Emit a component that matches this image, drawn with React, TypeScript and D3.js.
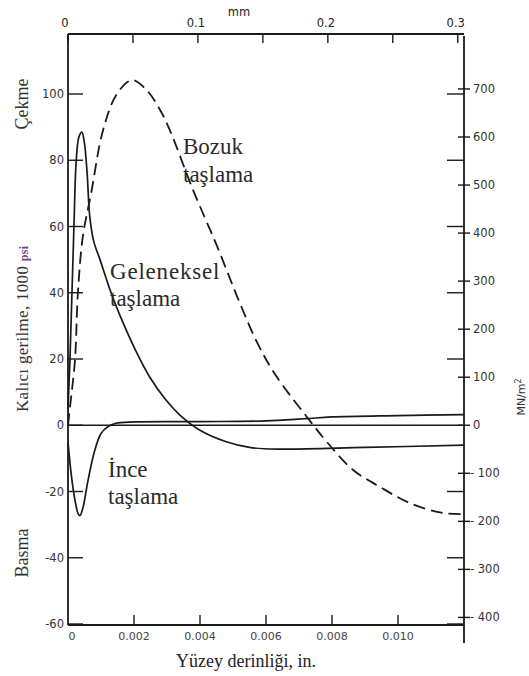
import * as d3 from "d3"

// depth in inches, stress in 1000 psi
const bozuk: [number, number][] = [
  [0, 0], [0.00006, 5.5], [0.00021, 19.5], [0.0003, 40], [0.00045, 57], [0.0007, 70],
  [0.00106, 89], [0.00148, 100], [0.00194, 104.2], [0.0024, 101], [0.0028, 95],
  [0.00309, 89], [0.00379, 71], [0.00452, 54], [0.00512, 39], [0.00573, 25],
  [0.0063, 15], [0.00724, 2.5], [0.00785, -5.1], [0.00864, -13.5], [0.00945, -18.6],
  [0.01036, -23.5], [0.01136, -26.5], [0.012, -26.8],
]

const geleneksel: [number, number][] = [
  [0, 5], [0.00006, 20], [0.00012, 40], [0.00018, 60], [0.00025, 80], [0.00033, 87],
  [0.00042, 88.5], [0.0005, 85], [0.00058, 76], [0.00066, 63], [0.00078, 55.5],
  [0.00097, 50], [0.00127, 41], [0.00158, 33], [0.00203, 23], [0.00248, 14.5],
  [0.00294, 8], [0.0034, 3], [0.004, -1.5], [0.0048, -5], [0.0055, -6.7],
  [0.0064, -7.2], [0.009, -6.7], [0.012, -6],
]

const ince: [number, number][] = [
  [0, -5], [0.0001, -15], [0.0002, -22], [0.0003, -26.5], [0.00036, -27.3],
  [0.00045, -25], [0.0006, -17], [0.0008, -8], [0.001, -2.5], [0.0012, -0.5],
  [0.00145, 0.6], [0.002, 1], [0.004, 1.1], [0.006, 1.3], [0.0072, 2],
  [0.008, 2.5], [0.01, 2.9], [0.012, 3.2],
]

const ksiTicks = [100, 80, 60, 40, 20, 0, -20, -40, -60]
const mpaTicks = [700, 600, 500, 400, 300, 200, 100, 0, -100, -200, -300, -400]
const inchTicks = [0, 0.002, 0.004, 0.006, 0.008, 0.01]
const inchLabels = ["0", "0.002", "0.004", "0.006", "0.008", "0.010"]
const mmTicks = [0, 0.05, 0.1, 0.15, 0.2, 0.25, 0.3]
const mmLabels = ["0", "0.1", "0.2", "0.3"]

const W = 529
const H = 676
const left = 68
const right = 464
const top = 34
const bottom = 625

const tickFont = "DejaVu Sans, sans-serif"
const serif = "Liberation Serif, Times New Roman, serif"
const ink = "#1a1a1a"

export default function App() {
  const x = d3.scaleLinear().domain([0, 0.012]).range([left, right])
  const y = d3.scaleLinear().domain([-60, 100]).range([624, 94])
  const yMpa = d3.scaleLinear().domain([-60 * 6.895, 100 * 6.895]).range([624, 94])
  const xMm = d3.scaleLinear().domain([0, 0.3 / 25.4]).range([left, x(0.3 / 25.4)])

  const line = d3
    .line<[number, number]>()
    .x((d) => x(d[0]))
    .y((d) => y(d[1]))
    .curve(d3.curveCatmullRom.alpha(0.5))

  return (
    <svg
      width={W}
      height={H}
      viewBox={`0 0 ${W} ${H}`}
      style={{ position: "absolute", left: 0, top: 0, background: "#fff" }}
    >
      {/* frame */}
      <g stroke={ink} strokeWidth={1.8} fill="none">
        <line x1={left} x2={right} y1={top} y2={top} />
        <line x1={left} x2={left} y1={top} y2={bottom} />
        <line x1={left} x2={right} y1={bottom} y2={bottom} />
        <line x1={right} x2={right} y1={top + 2} y2={643} />
      </g>

      {/* zero line */}
      <line x1={left} x2={right} y1={y(0)} y2={y(0)} stroke={ink} strokeWidth={1.5} />

      {/* left ksi axis */}
      {ksiTicks.map((v) => (
        <g key={`l${v}`}>
          <line x1={left} x2={left + 15} y1={y(v)} y2={y(v)} stroke={ink} strokeWidth={1.4} />
          <text
            x={left - 4}
            y={y(v)}
            dy="0.35em"
            textAnchor="end"
            fontFamily={tickFont}
            fontSize={11.5}
            fill="#333"
          >
            {String(v)}
          </text>
        </g>
      ))}

      {/* right inner ksi ticks */}
      {ksiTicks
        .filter((v) => v !== 0)
        .map((v) => (
          <line
            key={`ri${v}`}
            x1={right - 17}
            x2={right}
            y1={y(v)}
            y2={y(v)}
            stroke={ink}
            strokeWidth={1.4}
          />
        ))}

      {/* right MPa axis */}
      {mpaTicks.map((v) => (
        <g key={`r${v}`}>
          <line x1={right - 6} x2={right + 6} y1={yMpa(v)} y2={yMpa(v)} stroke={ink} strokeWidth={1.4} />
          <text
            x={right + (v < 0 ? 6 : 9)}
            y={yMpa(v)}
            dy="0.35em"
            fontFamily={tickFont}
            fontSize={11.5}
            fill="#333"
          >
            {v < 0 ? `- ${-v}` : String(v)}
          </text>
        </g>
      ))}

      {/* bottom inch axis */}
      {inchTicks.map((v, i) => (
        <g key={`b${v}`}>
          {i > 0 && (
            <line x1={x(v)} x2={x(v)} y1={bottom} y2={bottom - 10} stroke={ink} strokeWidth={1.4} />
          )}
          <text
            x={x(v) + (i === 0 ? 4 : 0)}
            y={bottom + 15}
            textAnchor="middle"
            fontFamily={tickFont}
            fontSize={11}
            fill="#444"
          >
            {inchLabels[i]}
          </text>
        </g>
      ))}

      {/* top mm axis */}
      {mmTicks.map((v) => (
        <line
          key={`t${v}`}
          x1={xMm(v / 25.4)}
          x2={xMm(v / 25.4)}
          y1={top}
          y2={top + 9}
          stroke={ink}
          strokeWidth={1.4}
        />
      ))}
      {mmLabels.map((s) => (
        <text
          key={`tl${s}`}
          x={xMm(Number(s) / 25.4) - (s === "0" ? 3 : 2)}
          y={top - 7}
          textAnchor="middle"
          fontFamily={tickFont}
          fontSize={11.5}
          fill="#222"
        >
          {s}
        </text>
      ))}
      <text x={239} y={16} textAnchor="middle" fontFamily={tickFont} fontSize={11.5} fill="#222">
        mm
      </text>

      {/* curves */}
      <g fill="none" stroke={ink}>
        <path d={line(bozuk) ?? ""} strokeWidth={1.8} strokeDasharray="12 6" />
        <path d={line(geleneksel) ?? ""} strokeWidth={1.7} />
        <path d={line(ince) ?? ""} strokeWidth={1.7} />
      </g>

      {/* annotations */}
      <g fontFamily={serif} fontSize={23} fill="#2a2a2a">
        <text x={183} y={154}>Bozuk</text>
        <text x={183} y={182}>taşlama</text>
        <text x={110} y={279} letterSpacing={0.8}>Geleneksel</text>
        <text x={110} y={306}>taşlama</text>
        <text x={108} y={477}>İnce</text>
        <text x={108} y={504}>taşlama</text>
      </g>

      {/* axis titles */}
      <g fontFamily={serif} fill="#333">
        <text transform="translate(28,104) rotate(-90)" textAnchor="middle" fontSize={18}>
          Çekme
        </text>
        <text transform="translate(28,412) rotate(-90)" fontSize={17} letterSpacing={0.3}>
          Kalıcı gerilme, 1000{" "}
          <tspan fill="#7a3d8c" fontSize={12} fontWeight="bold">
            psi
          </tspan>
        </text>
        <text transform="translate(28,553) rotate(-90)" textAnchor="middle" fontSize={18}>
          Basma
        </text>
        <text x={246} y={667} textAnchor="middle" fontSize={18} fill="#222">
          Yüzey derinliği, in.
        </text>
      </g>
      <text
        transform="translate(525,397) rotate(-90)"
        textAnchor="middle"
        fontFamily={tickFont}
        fontSize={11}
        fill="#333"
      >
        MN/m
        <tspan dy={-4} fontSize={8}>
          2
        </tspan>
      </text>
    </svg>
  )
}
